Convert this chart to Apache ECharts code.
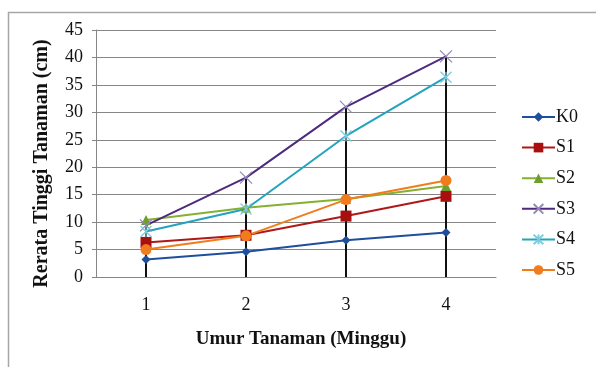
<!DOCTYPE html>
<html><head><meta charset="utf-8">
<script src="https://cdn.jsdelivr.net/npm/echarts@6/dist/echarts.min.js"></script>
<style>html,body{margin:0;padding:0;background:#fff}#c{width:596px;height:367px}</style>
</head><body><div id="c"></div>
<script>
var categories = ['1', '2', '3', '4'];
var seriesNames = ['K0', 'S1', 'S2', 'S3', 'S4', 'S5'];
var K0 = [3.2, 4.6, 6.7, 8.1];
var S1 = [6.3, 7.6, 11.1, 14.7];
var S2 = [10.4, 12.6, 14.2, 16.6];
var S3 = [9.4, 18.1, 31.0, 40.2];
var S4 = [8.3, 12.4, 25.7, 36.4];
var S5 = [5.0, 7.5, 14.1, 17.6];
var yTicks = [0, 5, 10, 15, 20, 25, 30, 35, 40, 45];

var allData = [K0, S1, S2, S3, S4, S5];
var dropLines = categories.map(function (c, i) {
  return Math.max.apply(null, allData.map(function (s) { return s[i]; }));
});

var colors = ['#1f4e9a', '#b01818', '#86b031', '#4e2a7e', '#22a3be', '#f07c1e'];
var markerColors = ['#1f4e9a', '#a81010', '#6f9e2a', '#9488b8', '#7fcbdc', '#f07c1e'];
var symbols = [
  'diamond', 'rect', 'triangle',
  'path://M0,0L10,10M10,0L0,10',
  'path://M0,0L10,10M10,0L0,10M5,0L5,10',
  'circle'
];
var sizes = [9, 11, 10, 12, 11, 11];
var font = '"Liberation Serif", "Times New Roman", serif';

var chart = echarts.init(document.getElementById('c'), null, {renderer: 'canvas'});
var series = [{
  type: 'bar',
  data: dropLines,
  barWidth: 2,
  itemStyle: {color: '#111'},
  silent: true,
  z: 1,
  legendHoverLink: false
}];
seriesNames.forEach(function (n, i) {
  var isPath = symbols[i].indexOf('path://') === 0;
  series.push({
    name: n,
    type: 'line',
    data: allData[i],
    symbol: symbols[i],
    symbolSize: sizes[i],
    z: 3,
    lineStyle: {color: colors[i], width: 2},
    itemStyle: isPath ? {color: markerColors[i], borderColor: markerColors[i], borderWidth: 1.3} : {color: markerColors[i]}
  });
});

chart.setOption({
  animation: false,
  backgroundColor: '#fff',
  graphic: [{
    type: 'rect',
    shape: {x: 8.5, y: 12.5, width: 620, height: 400},
    style: {fill: 'none', stroke: '#a6a6a6', lineWidth: 1.5},
    silent: true
  }],
  legend: {
    orient: 'vertical',
    left: 516,
    top: 103,
    itemGap: 12.6,
    itemWidth: 33,
    itemHeight: 12,
    data: seriesNames,
    textStyle: {fontFamily: font, fontSize: 18, color: '#111', padding: [0, 0, 0, -4]}
  },
  grid: {left: 96, right: 100, top: 30, bottom: 90},
  xAxis: {
    type: 'category',
    data: categories,
    boundaryGap: true,
    axisLine: {lineStyle: {color: '#868686'}},
    axisTick: {show: false},
    axisLabel: {fontFamily: font, fontSize: 18, color: '#111', margin: 19},
    name: 'Umur Tanaman (Minggu)',
    nameLocation: 'middle',
    nameGap: 53,
    nameTextStyle: {fontFamily: font, fontSize: 19, fontWeight: 'bold', color: '#111', padding: [0, 0, 0, 10]}
  },
  yAxis: {
    type: 'value',
    min: yTicks[0],
    max: yTicks[yTicks.length - 1],
    interval: 5,
    axisLine: {show: true, lineStyle: {color: '#868686'}},
    axisTick: {show: true, length: 4, lineStyle: {color: '#868686'}},
    splitLine: {lineStyle: {color: '#868686', width: 1}},
    axisLabel: {fontFamily: font, fontSize: 18, color: '#111', margin: 13},
    name: 'Rerata Tinggi Tanaman (cm)',
    nameLocation: 'middle',
    nameGap: 44,
    nameTextStyle: {fontFamily: font, fontSize: 20, fontWeight: 'bold', color: '#111', padding: [0, 20, 0, 0]}
  },
  series: series
});
</script></body></html>
